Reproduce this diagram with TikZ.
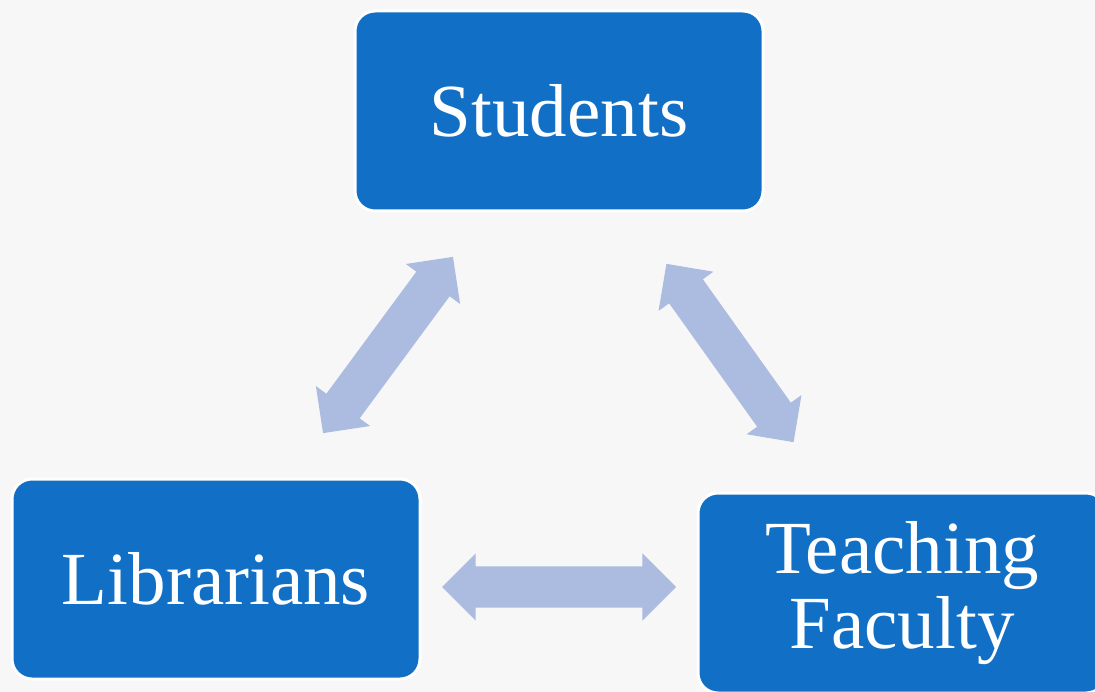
\documentclass[tikz,border=0pt]{standalone}
\usepackage{fontspec}
\setmainfont{Liberation Serif}
\usetikzlibrary{shapes.arrows}
\definecolor{boxblue}{HTML}{1170C6}
\definecolor{linkblue}{HTML}{ABBCE0}
\definecolor{paper}{HTML}{F7F7F7}

\begin{document}
\begin{tikzpicture}[
    x=1pt, y=-1pt,
    box/.style={fill=boxblue, draw=white, line width=3pt, rounded corners=20pt, minimum width=408pt, minimum height=200pt, text=white, font=\fontsize{75}{75}\selectfont, align=center},
    link/.style={double arrow, fill=linkblue, inner xsep=0pt, inner ysep=20.5pt, double arrow head extend=13pt}
]
\fill[paper] (0,0) rectangle (1095,692);
\useasboundingbox (0,0) rectangle (1095,692);
\clip (0,0) rectangle (1095,692);

\node[box] (students) at (559,111) {Students};
\node[box] (librarians) at (216,579) {Librarians};
\node[box] (faculty) at (902,593) {Teaching\\Faculty};

\node[link, minimum height=219pt, rotate=53.6] (studlib) at (388,345) {};
\node[link, minimum height=219pt, rotate=-54.5] (studfac) at (730,353) {};
\node[link, minimum height=234pt] (libfac) at (559,587) {};
\end{tikzpicture}
\end{document}
